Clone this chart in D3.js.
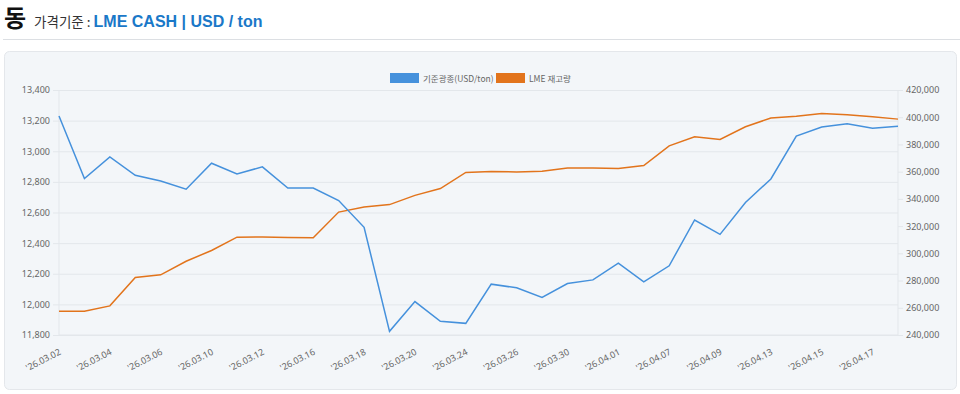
<!DOCTYPE html>
<html>
<head>
<meta charset="utf-8">
<script src="https://cdn.jsdelivr.net/npm/d3@7"></script>
<style>
  body { margin: 0; background: #fff; font-family: "Noto Sans CJK KR", "Noto Sans", sans-serif; }
  .axis path, .axis line { stroke: #e3e7eb; }
  .axis text { fill: #666; font-size: 9px; font-family: "Noto Sans", "Noto Sans CJK KR", sans-serif; }
</style>
</head>
<body>
<div class="canvas"></div>
<script>
const dates = [
  "'26.03.02", "'26.03.03", "'26.03.04", "'26.03.05", "'26.03.06", "'26.03.09",
  "'26.03.10", "'26.03.11", "'26.03.12", "'26.03.13", "'26.03.16", "'26.03.17",
  "'26.03.18", "'26.03.19", "'26.03.20", "'26.03.23", "'26.03.24", "'26.03.25",
  "'26.03.26", "'26.03.27", "'26.03.30", "'26.03.31", "'26.04.01", "'26.04.02",
  "'26.04.07", "'26.04.08", "'26.04.09", "'26.04.10", "'26.04.13", "'26.04.14",
  "'26.04.15", "'26.04.16", "'26.04.17", "'26.04.20"
];

// 기준광종 (USD/ton), left axis
const price = [
  13230, 12822, 12963, 12843, 12806, 12752, 12922, 12852, 12898, 12760,
  12760, 12678, 12503, 11824, 12018, 11889, 11876, 12132, 12108, 12046,
  12136, 12160, 12269, 12147, 12252, 12551, 12457, 12665, 12819, 13099,
  13158, 13179, 13151, 13164
];

// LME 재고량, right axis
const stock = [
  257400, 257400, 261400, 282200, 284200, 294200, 302100, 311900, 312000, 311700,
  311500, 330300, 334000, 335800, 342600, 347600, 359400, 360100, 359800, 360300,
  362700, 362700, 362300, 364500, 379000, 385600, 383700, 393000, 399400, 400800,
  402800, 401800, 400300, 398600
];

const leftTicks = [11800, 12000, 12200, 12400, 12600, 12800, 13000, 13200, 13400];
const rightTicks = [240000, 260000, 280000, 300000, 320000, 340000, 360000, 380000, 400000, 420000];
const seriesNames = ["기준광종(USD/ton)", "LME 재고량"];
const colors = ["#4591dc", "#e2741c"];

const width = 960;
const height = 394;
const margin = { top: 90, right: 62, bottom: 59, left: 59 };
const graphWidth = width - margin.left - margin.right;
const graphHeight = height - margin.top - margin.bottom;

const svg = d3.select(".canvas")
  .append("svg")
  .attr("width", width)
  .attr("height", height);

// header
const title = svg.append("text").attr("x", 4).attr("y", 27);
title.append("tspan")
  .attr("font-size", 24).attr("font-weight", 700).attr("fill", "#111")
  .text("동");
title.append("tspan")
  .attr("dx", 8).attr("font-size", 13.5).attr("fill", "#333")
  .text("가격기준 : ");
title.append("tspan")
  .attr("font-size", 16).attr("font-weight", 700).attr("fill", "#1a78c8")
  .attr("font-family", "'Liberation Sans', Arial, sans-serif")
  .text("LME CASH | USD / ton");

svg.append("line")
  .attr("x1", 3).attr("x2", width)
  .attr("y1", 39.5).attr("y2", 39.5)
  .attr("stroke", "#dcdfe3");

// card background
svg.append("rect")
  .attr("x", 4.5).attr("y", 51.5)
  .attr("width", 952).attr("height", 338)
  .attr("rx", 5)
  .attr("fill", "#f3f6f9")
  .attr("stroke", "#e4e7eb");

// legend
const legend = svg.append("g").attr("transform", "translate(390, 73)");
const legendX = [0, 106];
seriesNames.forEach((name, i) => {
  const item = legend.append("g").attr("transform", `translate(${legendX[i]}, 0)`);
  item.append("rect")
    .attr("width", 29).attr("height", 10)
    .attr("fill", colors[i]);
  item.append("text")
    .attr("x", 33).attr("y", 8.5)
    .attr("font-size", 8.5).attr("fill", "#666")
    .text(name);
});

const graph = svg.append("g")
  .attr("transform", `translate(${margin.left}, ${margin.top})`);

const x = d3.scalePoint().domain(dates).range([0, graphWidth]);
const yLeft = d3.scaleLinear().domain([11800, 13400]).range([graphHeight, 0]);
const yRight = d3.scaleLinear().domain([240000, 420000]).range([graphHeight, 0]);

// grid (from left axis)
graph.append("g")
  .attr("class", "axis")
  .call(d3.axisLeft(yLeft).tickValues(leftTicks).tickSize(-graphWidth).tickFormat(""))
  .call(g => g.select(".domain").remove());

// left axis
graph.append("g")
  .attr("class", "axis")
  .call(d3.axisLeft(yLeft).tickValues(leftTicks).tickSize(6).tickPadding(3).tickFormat(d3.format(",")))
  .call(g => g.select(".domain").attr("d", `M0,0V${graphHeight}`));

// right axis
graph.append("g")
  .attr("class", "axis")
  .attr("transform", `translate(${graphWidth}, 0)`)
  .call(d3.axisRight(yRight).tickValues(rightTicks).tickSize(5).tickPadding(3).tickFormat(d3.format(",")))
  .call(g => g.select(".domain").attr("d", `M0,0V${graphHeight}`));

// x axis, every other date labelled
graph.append("g")
  .attr("class", "axis")
  .attr("transform", `translate(0, ${graphHeight})`)
  .call(d3.axisBottom(x).tickValues(dates.filter((d, i) => i % 2 === 0)).tickSize(0).tickPadding(0))
  .call(g => g.select(".domain").attr("d", `M0,0H${graphWidth}`))
  .selectAll("text")
  .attr("text-anchor", "end")
  .attr("dy", 0)
  .attr("transform", "translate(2, 19) rotate(-27)");

const lineLeft = d3.line()
  .x((d, i) => x(dates[i]))
  .y(d => yLeft(d));

const lineRight = d3.line()
  .x((d, i) => x(dates[i]))
  .y(d => yRight(d));

graph.append("path")
  .datum(stock)
  .attr("fill", "none")
  .attr("stroke", colors[1])
  .attr("stroke-width", 1.5)
  .attr("d", lineRight);

graph.append("path")
  .datum(price)
  .attr("fill", "none")
  .attr("stroke", colors[0])
  .attr("stroke-width", 1.5)
  .attr("d", lineLeft);
</script>
</body>
</html>
